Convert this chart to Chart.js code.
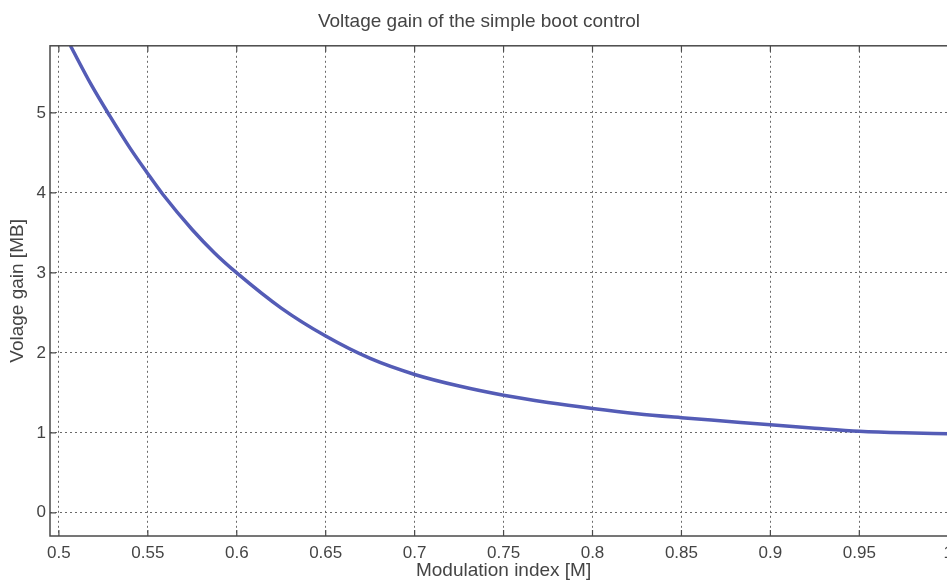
<!DOCTYPE html>
<html>
<head>
<meta charset="utf-8">
<script src="https://cdn.jsdelivr.net/npm/chart.js@4"></script>
<style>
  html, body { margin: 0; padding: 0; background: #fff; overflow: hidden; }
</style>
</head>
<body>
<canvas id="gainChart" width="960" height="583"></canvas>
<script>
const modulationIndex = [0.5065, 0.518, 0.5287, 0.54, 0.55, 0.5585, 0.575, 0.5875, 0.6, 0.625, 0.65, 0.675, 0.7, 0.725, 0.75, 0.775, 0.8, 0.825, 0.85, 0.875, 0.9, 0.925, 0.95, 0.975, 1.0];
const voltageGain = [5.84, 5.36, 4.96, 4.56, 4.24, 3.98, 3.54, 3.25, 3.0, 2.56, 2.21, 1.93, 1.73, 1.585, 1.47, 1.38, 1.305, 1.24, 1.19, 1.145, 1.1, 1.058, 1.02, 1.0, 0.99];
const xTicks = [0.5, 0.55, 0.6, 0.65, 0.7, 0.75, 0.8, 0.85, 0.9, 0.95, 1];
const yTicks = [0, 1, 2, 3, 4, 5];

const frameColor = '#4a4a4a';
const gridColor = '#6a6a6a';
const textColor = '#444';

// box round the plot plus small inward tick marks, matlab style
const framePlugin = {
    id: 'frame',
    afterDraw(chart) {
        const { ctx, chartArea: a, scales } = chart;
        ctx.save();
        ctx.strokeStyle = frameColor;
        ctx.lineWidth = 1.5;
        ctx.strokeRect(a.left, a.top, a.right - a.left, a.bottom - a.top);
        ctx.lineWidth = 1.2;
        ctx.beginPath();
        xTicks.forEach((v) => {
            const px = scales.x.getPixelForValue(v);
            ctx.moveTo(px, a.bottom); ctx.lineTo(px, a.bottom - 6);
            ctx.moveTo(px, a.top); ctx.lineTo(px, a.top + 6);
        });
        yTicks.forEach((v) => {
            const py = scales.y.getPixelForValue(v);
            ctx.moveTo(a.left, py); ctx.lineTo(a.left + 6, py);
        });
        ctx.stroke();
        ctx.restore();
    }
};

const ctx = document.getElementById('gainChart').getContext('2d');
new Chart(ctx, {
    type: 'line',
    data: {
        datasets: [{
            label: 'MB',
            data: modulationIndex.map((m, i) => ({ x: m, y: voltageGain[i] })),
            borderColor: '#545cb6',
            borderWidth: 3.5,
            pointRadius: 0,
            fill: false,
            cubicInterpolationMode: 'monotone'
        }]
    },
    options: {
        responsive: false,
        animation: false,
        layout: { padding: { left: 0, right: 2, top: 0, bottom: 0 } },
        plugins: {
            legend: { display: false },
            tooltip: { enabled: false },
            title: {
                display: true,
                text: 'Voltage gain of the simple boot control',
                color: textColor,
                font: { family: 'Liberation Sans, Arial, sans-serif', size: 19, weight: 'normal' },
                padding: { top: 10, bottom: 13 }
            }
        },
        scales: {
            x: {
                type: 'linear',
                min: 0.495,
                max: 1.005,
                afterBuildTicks: (scale) => { scale.ticks = xTicks.map((v) => ({ value: v })); },
                afterFit: (scale) => { scale.height = 47; },
                ticks: {
                    color: textColor,
                    padding: 7,
                    maxRotation: 0,
                    autoSkip: false,
                    font: { family: 'Liberation Sans, Arial, sans-serif', size: 17 },
                    callback: (v) => String(Number(v.toFixed(2)))
                },
                grid: { color: gridColor, lineWidth: 1, drawTicks: false },
                border: { display: false, dash: [2, 3] },
                title: {
                    display: true,
                    text: 'Modulation index [M]',
                    color: textColor,
                    font: { family: 'Liberation Sans, Arial, sans-serif', size: 19 },
                    padding: { top: 0, bottom: 1 }
                }
            },
            y: {
                min: -0.29,
                max: 5.84,
                afterBuildTicks: (scale) => { scale.ticks = yTicks.map((v) => ({ value: v })); },
                afterFit: (scale) => { scale.width = 50; },
                ticks: {
                    color: textColor,
                    padding: 4,
                    autoSkip: false,
                    font: { family: 'Liberation Sans, Arial, sans-serif', size: 17 }
                },
                grid: { color: gridColor, lineWidth: 1, drawTicks: false },
                border: { display: false, dash: [2, 3] },
                title: {
                    display: true,
                    text: 'Volage gain [MB]',
                    color: textColor,
                    font: { family: 'Liberation Sans, Arial, sans-serif', size: 19 },
                    padding: { top: 6, bottom: 0 }
                }
            }
        }
    },
    plugins: [framePlugin]
});
</script>
</body>
</html>
